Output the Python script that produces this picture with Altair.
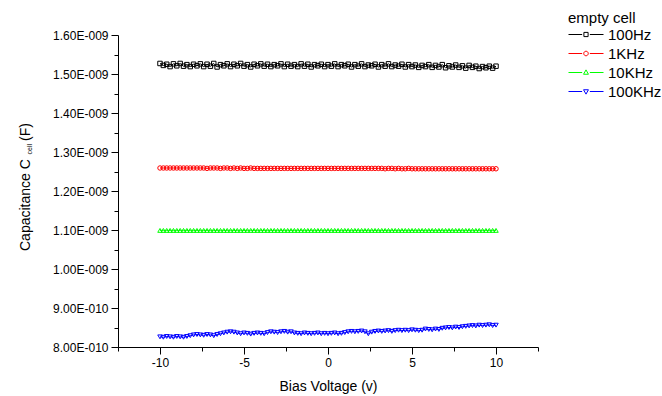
import altair as alt
import pandas as pd

# Bias voltage sweep (V), step 0.2 V
voltages = [round(-10 + 0.2 * i, 1) for i in range(101)]

series_names = ["100Hz", "1KHz", "10KHz", "100KHz"]
series_colors = ["#000000", "#ff0000", "#00ff00", "#0000ff"]
marker_shapes = ["square", "circle", "triangle-up", "triangle-down"]

# Capacitance values in nF (x 1E-009 F)
c_100hz = [
    1.527, 1.522, 1.525, 1.519, 1.526, 1.521, 1.527, 1.520, 1.524, 1.519,
    1.525, 1.521, 1.526, 1.519, 1.525, 1.520, 1.527, 1.518, 1.524, 1.521,
    1.526, 1.519, 1.525, 1.521, 1.527, 1.520, 1.524, 1.518, 1.525, 1.521,
    1.526, 1.520, 1.525, 1.519, 1.524, 1.521, 1.526, 1.519, 1.525, 1.520,
    1.524, 1.519, 1.526, 1.520, 1.525, 1.518, 1.524, 1.521, 1.525, 1.519,
    1.524, 1.520, 1.526, 1.519, 1.524, 1.521, 1.525, 1.518, 1.524, 1.520,
    1.526, 1.519, 1.523, 1.521, 1.525, 1.518, 1.524, 1.520, 1.526, 1.519,
    1.523, 1.520, 1.525, 1.518, 1.524, 1.519, 1.523, 1.517, 1.522, 1.519,
    1.524, 1.517, 1.522, 1.518, 1.524, 1.516, 1.521, 1.518, 1.523, 1.517,
    1.521, 1.515, 1.522, 1.517, 1.520, 1.514, 1.519, 1.516, 1.520, 1.515,
    1.520,
]
c_1khz = [
    1.259, 1.259, 1.259, 1.259, 1.259, 1.259, 1.259, 1.259, 1.259, 1.259,
    1.259, 1.259, 1.259, 1.259, 1.258, 1.259, 1.259, 1.259, 1.258, 1.259,
    1.259, 1.258, 1.259, 1.258, 1.259, 1.258, 1.258, 1.259, 1.258, 1.258,
    1.258, 1.258, 1.258, 1.258, 1.258, 1.258, 1.258, 1.258, 1.258, 1.258,
    1.258, 1.258, 1.258, 1.258, 1.258, 1.258, 1.258, 1.258, 1.258, 1.258,
    1.258, 1.258, 1.258, 1.258, 1.258, 1.258, 1.258, 1.258, 1.258, 1.258,
    1.258, 1.258, 1.258, 1.258, 1.258, 1.258, 1.258, 1.257, 1.258, 1.258,
    1.257, 1.258, 1.257, 1.257, 1.258, 1.257, 1.257, 1.257, 1.257, 1.257,
    1.257, 1.257, 1.257, 1.257, 1.257, 1.257, 1.257, 1.257, 1.257, 1.257,
    1.257, 1.257, 1.257, 1.257, 1.257, 1.257, 1.257, 1.257, 1.257, 1.257,
    1.257,
]
c_10khz = [
    1.099, 1.099, 1.099, 1.099, 1.099, 1.099, 1.099, 1.099, 1.099, 1.099,
    1.099, 1.099, 1.099, 1.099, 1.099, 1.099, 1.099, 1.099, 1.099, 1.099,
    1.099, 1.099, 1.099, 1.099, 1.099, 1.099, 1.099, 1.099, 1.099, 1.099,
    1.099, 1.099, 1.099, 1.099, 1.099, 1.099, 1.099, 1.099, 1.099, 1.099,
    1.099, 1.099, 1.099, 1.099, 1.099, 1.099, 1.099, 1.099, 1.099, 1.099,
    1.099, 1.099, 1.099, 1.099, 1.099, 1.099, 1.099, 1.099, 1.099, 1.099,
    1.099, 1.099, 1.099, 1.099, 1.099, 1.099, 1.099, 1.099, 1.099, 1.099,
    1.099, 1.099, 1.099, 1.099, 1.099, 1.099, 1.099, 1.099, 1.099, 1.099,
    1.099, 1.099, 1.099, 1.099, 1.099, 1.099, 1.099, 1.099, 1.099, 1.099,
    1.099, 1.099, 1.099, 1.099, 1.099, 1.099, 1.099, 1.099, 1.099, 1.099,
    1.099,
]
c_100khz = [
    0.826, 0.825, 0.827, 0.826, 0.825, 0.827, 0.826, 0.825, 0.827, 0.829,
    0.831, 0.832, 0.831, 0.830, 0.832, 0.831, 0.829, 0.832, 0.834, 0.836,
    0.838, 0.839, 0.838, 0.836, 0.834, 0.836, 0.835, 0.833, 0.835, 0.836,
    0.835, 0.834, 0.837, 0.839, 0.838, 0.837, 0.839, 0.840, 0.838, 0.839,
    0.836, 0.835, 0.834, 0.836, 0.835, 0.834, 0.835, 0.836, 0.834, 0.835,
    0.834, 0.835, 0.836, 0.834, 0.835, 0.837, 0.839, 0.840, 0.839, 0.840,
    0.841, 0.839, 0.834, 0.838, 0.840, 0.841, 0.840, 0.841, 0.842, 0.840,
    0.842, 0.843, 0.842, 0.843, 0.842, 0.844, 0.843, 0.842, 0.843, 0.846,
    0.845, 0.844, 0.846, 0.845, 0.848, 0.849, 0.850, 0.849, 0.851, 0.850,
    0.852, 0.853, 0.854, 0.855, 0.854, 0.856, 0.855, 0.856, 0.857, 0.855,
    0.856,
]

x_ticks = [-12.5, -10, -7.5, -5, -2.5, 0, 2.5, 5, 7.5, 10, 12.5]
y_ticks = [0.8, 0.85, 0.9, 0.95, 1.0, 1.05, 1.1, 1.15, 1.2, 1.25, 1.3,
           1.35, 1.4, 1.45, 1.5, 1.55, 1.6]

legend_title = "empty cell"
x_title = "Bias Voltage (v)"
y_title_main = ["Capacitance C"]
y_title_sub = ["cell"]
y_title_unit = ["(F)"]

# legend symbols: line - marker - line
legend_paths = [
    "M-1,0H-0.22M0.22,0H1M-0.12,-0.12H0.12V0.12H-0.12Z",
    "M-1,0H-0.22M0.22,0H1M0.13,0A0.13,0.13 0 1,1 -0.13,0A0.13,0.13 0 1,1 0.13,0Z",
    "M-1,0H-0.22M0.22,0H1M0,-0.15L0.14,0.1L-0.14,0.1Z",
    "M-1,0H-0.22M0.22,0H1M0,0.15L0.14,-0.1L-0.14,-0.1Z",
]

rows = []
for name, vals in zip(series_names, [c_100hz, c_1khz, c_10khz, c_100khz]):
    for v, c in zip(voltages, vals):
        rows.append({"V": v, "C": c, "series": name})
df = pd.DataFrame(rows)

FONT = "Liberation Sans"

x_enc = alt.X(
    "V:Q",
    scale=alt.Scale(domain=[-12.5, 12.5], nice=False),
    axis=alt.Axis(
        values=x_ticks,
        tickSize={"condition": {"test": "datum.value % 5 == 0", "value": 7}, "value": 4},
        labelExpr="datum.value % 5 == 0 ? '' + datum.value : ''",
        title=x_title,
        labelPadding=3,
        titlePadding=11,
        labelFlush=False,
        labelOverlap=False,
    ),
)
y_enc = alt.Y(
    "C:Q",
    scale=alt.Scale(domain=[0.8, 1.6], nice=False, zero=False),
    axis=alt.Axis(
        values=y_ticks,
        tickSize={"condition": {"test": "round(datum.value * 100) % 10 == 0", "value": 7}, "value": 4},
        labelExpr="round(datum.value * 100) % 10 == 0 ? (datum.value >= 0.995 ? format(datum.value, '.2f') + 'E-009' : format(datum.value * 10, '.2f') + 'E-010') : ''",
        title=None,
        labelPadding=3,
        labelOverlap=False,
        labelFlush=False,
    ),
)
color_scale = alt.Scale(domain=series_names, range=series_colors)

lines = alt.Chart(df).mark_line(strokeWidth=1).encode(
    x=x_enc, y=y_enc,
    color=alt.Color("series:N", scale=color_scale, legend=None),
)
points = alt.Chart(df).mark_point(filled=False, size=20, strokeWidth=1, opacity=1).encode(
    x=x_enc, y=y_enc,
    color=alt.Color("series:N", scale=color_scale, legend=None),
    shape=alt.Shape("series:N", scale=alt.Scale(domain=series_names, range=marker_shapes), legend=None),
)
leg = alt.Legend(
    title=legend_title, orient="none", legendX=450, legendY=-24,
    symbolSize=1225, symbolStrokeWidth=1, symbolOpacity=1, clipHeight=17,
    rowPadding=2, titlePadding=0, labelOffset=4,
    labelFont=FONT, labelFontSize=15, labelColor="black",
    titleFont=FONT, titleFontSize=15, titleFontWeight="normal", titleColor="black",
)
legend_layer = alt.Chart(df).mark_point(filled=False, size=1225, opacity=0).encode(
    x=x_enc, y=y_enc,
    color=alt.Color("series:N", scale=color_scale, legend=leg),
    shape=alt.Shape("series:N", scale=alt.Scale(domain=series_names, range=legend_paths), legend=leg),
)

t_main = alt.Chart(pd.DataFrame({"t": y_title_main})).mark_text(
    angle=270, align="left", baseline="alphabetic", fontSize=14, font=FONT, color="black"
).encode(x=alt.value(-88), y=alt.value(216), text="t:N")
t_sub = alt.Chart(pd.DataFrame({"t": y_title_sub})).mark_text(
    angle=270, align="left", baseline="alphabetic", fontSize=7, font=FONT, color="black"
).encode(x=alt.value(-86), y=alt.value(119.5), text="t:N")
t_unit = alt.Chart(pd.DataFrame({"t": y_title_unit})).mark_text(
    angle=270, align="left", baseline="alphabetic", fontSize=14, font=FONT, color="black"
).encode(x=alt.value(-88), y=alt.value(106), text="t:N")

chart = alt.layer(lines, points, legend_layer, t_main, t_sub, t_unit).resolve_scale(
    color="independent", shape="independent"
).properties(
    width=420, height=312,
    autosize="none",
    padding={"left": 118, "top": 35, "right": 124, "bottom": 49},
).configure_view(stroke=None).configure_axis(
    grid=False,
    domainColor="black", domainWidth=1,
    tickColor="black", tickWidth=1,
    labelFont=FONT, labelFontSize=12, labelColor="black",
    titleFont=FONT, titleFontSize=14, titleFontWeight="normal", titleColor="black",
)

chart.save("out.html", embed_options={"renderer": "svg", "actions": False})
